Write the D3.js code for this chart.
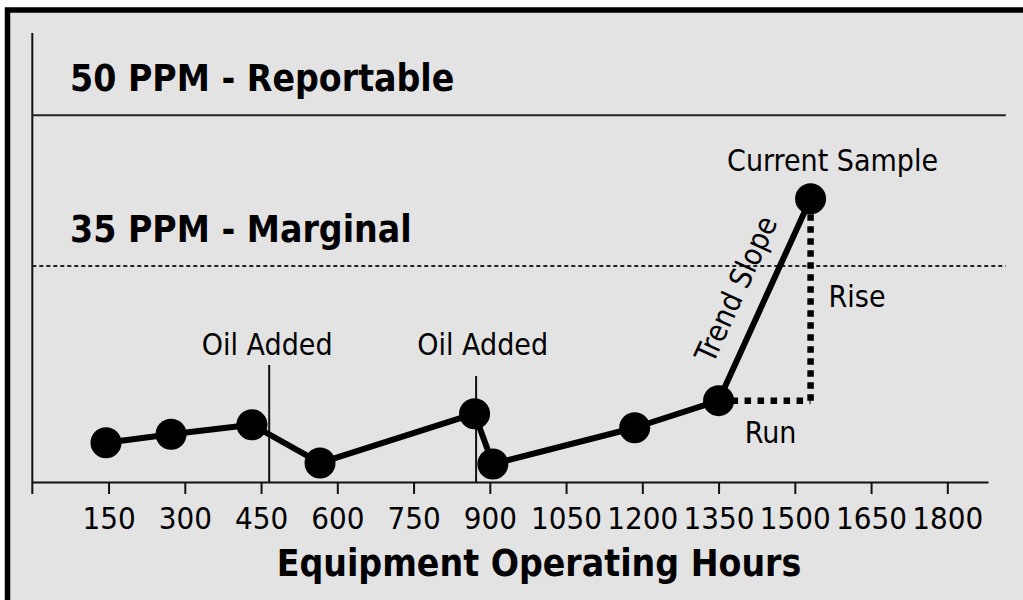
<!DOCTYPE html>
<html>
<head>
<meta charset="utf-8">
<script src="https://cdn.jsdelivr.net/npm/d3@7"></script>
<style>
  html, body { margin: 0; padding: 0; background: #fff; }
  svg text { font-family: "DejaVu Sans Condensed", "DejaVu Sans", sans-serif; font-stretch: condensed; fill: #000; }
</style>
</head>
<body>
<div id="chart"></div>
<script>
// DATA
const hours = [145, 273, 432, 566, 870, 906, 1185, 1350, 1531];
const ppm = [17.4, 18.25, 19.2, 15.4, 20.3, 15.3, 18.9, 21.6, 41.7];
const xTicks = [150, 300, 450, 600, 750, 900, 1050, 1200, 1350, 1500, 1650, 1800];
const limitValues = [50, 35];
const limitLabels = ["50 PPM - Reportable", "35 PPM - Marginal"];
const oilHours = [466, 873];
const oilTops = [25.15, 24.05];
const oilLabelHours = [462, 886];

const W = 1023, H = 600;

const svg = d3.select("#chart")
    .append("svg")
    .attr("width", W)
    .attr("height", H);

// frame
svg.append("rect")
    .attr("x", 7.5).attr("y", 10)
    .attr("width", W + 20).attr("height", H + 20)
    .attr("fill", "#e3e3e3")
    .attr("stroke", "#000")
    .attr("stroke-width", 5.5);

const x = d3.scaleLinear().domain([0, 1880]).range([32.3, 988]);
const y = d3.scaleLinear().domain([13.5, 58.2]).range([482, 33]);
const xEnd = x(1915);

// y axis line (runs a bit under the x axis)
svg.append("line")
    .attr("x1", x(0)).attr("x2", x(0))
    .attr("y1", y(58.2)).attr("y2", y(13.5) + 12)
    .attr("stroke", "#111").attr("stroke-width", 2);

// x axis
const xAxis = svg.append("g")
    .attr("transform", `translate(0,${y(13.5)})`)
    .call(d3.axisBottom(x).tickValues(xTicks).tickFormat(d3.format("d"))
        .tickSizeInner(12).tickSizeOuter(0));
xAxis.select(".domain").attr("stroke", "#111").attr("stroke-width", 2);
xAxis.selectAll(".tick line").attr("stroke", "#111").attr("stroke-width", 2);
xAxis.selectAll(".tick text")
    .attr("font-size", 31)
    .attr("fill", "#111")
    .attr("dy", null)
    .attr("y", 47);

svg.append("text")
    .attr("x", 539).attr("y", 576)
    .attr("text-anchor", "middle")
    .attr("font-size", 37)
    .attr("font-weight", "bold")
    .text("Equipment Operating Hours");

// limit lines
svg.append("line")
    .attr("x1", x(0)).attr("x2", xEnd)
    .attr("y1", y(limitValues[0])).attr("y2", y(limitValues[0]))
    .attr("stroke", "#222").attr("stroke-width", 2);
svg.append("line")
    .attr("x1", x(0)).attr("x2", xEnd)
    .attr("y1", y(limitValues[1])).attr("y2", y(limitValues[1]))
    .attr("stroke", "#222").attr("stroke-width", 2)
    .attr("stroke-dasharray", "4,3");

svg.selectAll(".limit-label")
    .data(limitValues)
    .join("text")
    .attr("class", "limit-label")
    .attr("x", 70)
    .attr("y", d => y(d) - 24)
    .attr("font-size", 37)
    .attr("font-weight", "bold")
    .text((d, i) => limitLabels[i]);

// oil added markers
oilHours.forEach((h, i) => {
    svg.append("line")
        .attr("x1", x(h)).attr("x2", x(h))
        .attr("y1", y(oilTops[i])).attr("y2", y(13.5))
        .attr("stroke", "#111").attr("stroke-width", 2);
    svg.append("text")
        .attr("x", x(oilLabelHours[i]))
        .attr("y", 355)
        .attr("text-anchor", "middle")
        .attr("font-size", 30)
        .text("Oil Added");
});

const pts = hours.map((h, i) => ({ h, v: ppm[i] }));
const last = pts[pts.length - 1], prev = pts[pts.length - 2];

// rise / run
svg.append("path")
    .attr("d", `M${x(prev.h)},${y(prev.v)}H${x(last.h)}`)
    .attr("fill", "none").attr("stroke", "#000")
    .attr("stroke-width", 6.5).attr("stroke-dasharray", "6.5,6.5");
svg.append("path")
    .attr("d", `M${x(last.h)},${y(prev.v)}V${y(last.v)}`)
    .attr("fill", "none").attr("stroke", "#000")
    .attr("stroke-width", 6.5).attr("stroke-dasharray", "6.5,5.5");

// trend line + points
const line = d3.line().x(d => x(d.h)).y(d => y(d.v));
svg.append("path")
    .datum(pts)
    .attr("d", line)
    .attr("fill", "none")
    .attr("stroke", "#000")
    .attr("stroke-width", 6)
    .attr("stroke-linejoin", "round");

svg.selectAll(".dot")
    .data(pts)
    .join("circle")
    .attr("class", "dot")
    .attr("cx", d => x(d.h))
    .attr("cy", d => y(d.v))
    .attr("r", 15.5)
    .attr("fill", "#000");

// annotations
svg.append("text")
    .attr("x", x(last.h) + 22).attr("y", y(last.v) - 28)
    .attr("text-anchor", "middle")
    .attr("font-size", 30)
    .text("Current Sample");

svg.append("text")
    .attr("x", x(last.h) + 18)
    .attr("y", (y(last.v) + y(prev.v)) / 2 + 7)
    .attr("font-size", 30)
    .text("Rise");

svg.append("text")
    .attr("x", (x(prev.h) + x(last.h)) / 2 + 6)
    .attr("y", y(prev.v) + 42)
    .attr("text-anchor", "middle")
    .attr("font-size", 30)
    .text("Run");

// trend slope label along the last segment
const x0 = x(prev.h), y0 = y(prev.v), x1 = x(last.h), y1 = y(last.v);
const len = Math.hypot(x1 - x0, y1 - y0);
const ux = (x1 - x0) / len, uy = (y1 - y0) / len;
const ang = Math.atan2(y1 - y0, x1 - x0) * 180 / Math.PI;
const t = 0.49, off = 20;
const tx = x0 + (x1 - x0) * t + uy * off;
const ty = y0 + (y1 - y0) * t - ux * off;
svg.append("text")
    .attr("transform", `translate(${tx},${ty}) rotate(${ang})`)
    .attr("text-anchor", "middle")
    .attr("font-size", 30)
    .text("Trend Slope");
</script>
</body>
</html>
